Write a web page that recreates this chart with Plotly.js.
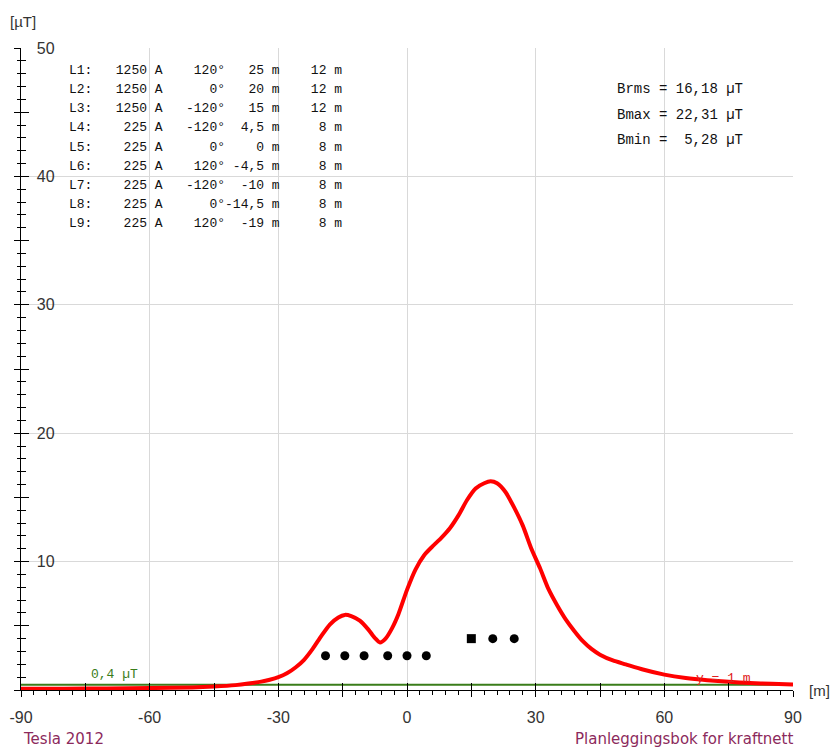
<!DOCTYPE html>
<html>
<head>
<meta charset="utf-8">
<script src="https://cdn.plot.ly/plotly-3.0.1.min.js"></script>
<style>
  html, body { margin: 0; padding: 0; background: #fff; }
  #chart { width: 833px; height: 750px; }
</style>
</head>
<body>
<div id="chart"></div>
<script>
// ---- Data ----
// Magnetic field profile at y = 1 m (µT) versus lateral position (m)
var profileX = [-90, -80, -70, -60, -50, -45, -40, -37, -34, -32, -30, -28, -26, -24, -22, -20, -18, -16, -14.5, -13, -11, -9, -7.5, -6.3, -5, -3.5, -2, 0, 2, 4, 6, 8, 10, 12, 14, 16, 18, 19.5, 21, 23, 25, 27, 29, 31, 33, 35, 37, 39, 41, 43, 45, 48, 51, 55, 60, 65, 70, 75, 80, 85, 90];
var profileB = [0.1, 0.1, 0.12, 0.15, 0.2, 0.27, 0.38, 0.5, 0.65, 0.8, 1.0, 1.3, 1.75, 2.35, 3.2, 4.2, 5.1, 5.65, 5.85, 5.75, 5.4, 4.7, 4.05, 3.7, 4.0, 4.8, 5.9, 7.8, 9.4, 10.5, 11.2, 11.85, 12.6, 13.6, 14.8, 15.7, 16.1, 16.25, 16.1, 15.4, 14.2, 12.8, 11.0, 9.5, 7.85, 6.6, 5.5, 4.6, 3.8, 3.2, 2.75, 2.3, 2.0, 1.6, 1.2, 0.93, 0.76, 0.64, 0.55, 0.48, 0.43];

// Conductors
var lineNames = ['L1', 'L2', 'L3', 'L4', 'L5', 'L6', 'L7', 'L8', 'L9'];
var lineCurrent = [1250, 1250, 1250, 225, 225, 225, 225, 225, 225];   // A
var lineAngle = [120, 0, -120, -120, 0, 120, -120, 0, 120];            // degrees
var lineX = [25, 20, 15, 4.5, 0, -4.5, -10, -14.5, -19];               // m
var lineHeight = [12, 12, 12, 8, 8, 8, 8, 8, 8];                       // m

// Summary values
var statNames = ['Brms', 'Bmax', 'Bmin'];
var statValues = [16.18, 22.31, 5.28];

var thresholdB = 0.4;      // µT
var measureHeight = 1;     // m

var xTickLabels = ['-90', '-60', '-30', '0', '30', '60', '90'];
var yTickLabels = ['10', '20', '30', '40', '50'];

// ---- Helpers ----
function dec(v) { return String(v).replace('.', ','); }
function pad(s, n) { s = String(s); while (s.length < n) s = ' ' + s; return s; }

var mono = 'Liberation Mono, Courier New, monospace';
var sans = 'Liberation Sans, Arial, sans-serif';
var footerFont = 'DejaVu Sans, Tahoma, sans-serif';

var traces = [];

// Profile curve
traces.push({
  type: 'scatter', mode: 'lines',
  x: profileX, y: profileB,
  xaxis: 'x', yaxis: 'y',
  line: { color: '#ff0000', width: 4, shape: 'spline', smoothing: 0.6 },
  hoverinfo: 'x+y', showlegend: false
});

// Conductor positions (height shown on a hidden scaled axis)
var symbols = lineX.map(function (v, i) { return i === 2 ? 'square' : 'circle'; });
traces.push({
  type: 'scatter', mode: 'markers',
  x: lineX, y: lineHeight,
  xaxis: 'x', yaxis: 'y4',
  marker: { color: '#000', size: 9, symbol: symbols },
  hoverinfo: 'x+y', showlegend: false
});

// Empty traces to activate tick-only overlay axes
traces.push({ type: 'scatter', x: [], y: [], xaxis: 'x2', yaxis: 'y2', showlegend: false, hoverinfo: 'skip' });
traces.push({ type: 'scatter', x: [], y: [], xaxis: 'x3', yaxis: 'y3', showlegend: false, hoverinfo: 'skip' });

var xr = [-90, 90], yr = [0, 50];

var annotations = [];
// Conductor table
lineNames.forEach(function (n, i) {
  var s = n + ':' + pad(lineCurrent[i], 7) + ' A' + pad(lineAngle[i] + '°', 8) +
          pad(dec(lineX[i]), 5) + ' m' + pad(lineHeight[i], 6) + ' m';
  annotations.push({
    xref: 'x', yref: 'y', x: -79.2, y: 48.24 - i * 1.49,
    xanchor: 'left', yanchor: 'middle', showarrow: false,
    text: s.replace(/ /g, '&nbsp;'),
    font: { family: mono, size: 13, color: '#111' }
  });
});
// Stats
statNames.forEach(function (n, i) {
  var s = n + ' =' + pad(dec(statValues[i].toFixed(2)), 6) + ' µT';
  annotations.push({
    xref: 'x', yref: 'y', x: 48.5, y: 46.8 - i * 1.98,
    xanchor: 'left', yanchor: 'middle', showarrow: false,
    text: s.replace(/ /g, '&nbsp;'),
    font: { family: mono, size: 14, color: '#111' }
  });
});
// Threshold label
annotations.push({
  xref: 'x', yref: 'y', x: -68.3, y: thresholdB, yanchor: 'bottom', xanchor: 'center', yshift: 1,
  showarrow: false, text: dec(thresholdB) + '&nbsp;µT',
  font: { family: mono, size: 13, color: '#3a7d1a' }
});
// Height label
annotations.push({
  xref: 'x', yref: 'y', x: 73.7, y: 0.5, yanchor: 'bottom', xanchor: 'center', yshift: -4,
  showarrow: false, text: 'y&nbsp;=&nbsp;' + measureHeight + '&nbsp;m',
  font: { family: mono, size: 13, color: '#e02020' }
});
// Axis unit labels
annotations.push({
  xref: 'paper', yref: 'paper', x: 0, y: 1.041, xanchor: 'center', yanchor: 'middle', xshift: 2,
  showarrow: false, text: '[µT]', font: { family: sans, size: 15, color: '#333' }
});
annotations.push({
  xref: 'paper', yref: 'paper', x: 1.034, y: 0, xanchor: 'center', yanchor: 'middle',
  showarrow: false, text: '[m]', font: { family: sans, size: 15, color: '#333' }
});
// Footer
annotations.push({
  xref: 'paper', yref: 'paper', x: 0, y: -0.077, xanchor: 'left', yanchor: 'middle',
  showarrow: false, text: 'Tesla 2012', font: { family: footerFont, size: 15, color: '#8c2a5c' }
});
annotations.push({
  xref: 'paper', yref: 'paper', x: 1, y: -0.077, xanchor: 'right', yanchor: 'middle', xshift: 2,
  showarrow: false, text: 'Planleggingsbok for kraftnett', font: { family: footerFont, size: 15, color: '#8c2a5c' }
});

var tickOnly = {
  showgrid: false, zeroline: false, showline: false, showticklabels: false, fixedrange: true
};

var layout = {
  width: 833, height: 750,
  margin: { l: 21, r: 40, t: 48, b: 60 },
  paper_bgcolor: '#fff', plot_bgcolor: '#fff',
  showlegend: false,
  xaxis: {
    range: xr, tickmode: 'array',
    tickvals: xTickLabels.map(Number), ticktext: xTickLabels,
    showgrid: true, gridcolor: '#d9d9d9', gridwidth: 1,
    zeroline: false, showline: true, linecolor: '#000', linewidth: 1,
    ticks: '', ticklabelstandoff: 13,
    tickfont: { family: sans, size: 16, color: '#333' },
    layer: 'below traces'
  },
  xaxis2: Object.assign({}, tickOnly, {
    overlaying: 'x', anchor: 'y', range: xr,
    tickmode: 'linear', tick0: -90, dtick: 15, ticks: 'outside', ticklen: 6, tickcolor: '#000',
    minor: { tick0: -90, dtick: 3, ticks: 'outside', ticklen: 4, tickcolor: '#000', showgrid: false }
  }),
  xaxis3: Object.assign({}, tickOnly, {
    overlaying: 'x', anchor: 'y', range: xr,
    tickmode: 'linear', tick0: -90, dtick: 15, ticks: 'inside', ticklen: 7, tickcolor: '#000'
  }),
  yaxis: {
    range: yr, tickmode: 'array',
    tickvals: yTickLabels.map(Number), ticktext: yTickLabels,
    showgrid: true, gridcolor: '#d9d9d9', gridwidth: 1,
    zeroline: false, showline: true, linecolor: '#000', linewidth: 1,
    ticks: '', ticklabelposition: 'inside', ticklabelstandoff: 16, ticklabeloverflow: 'allow',
    tickfont: { family: sans, size: 16, color: '#333' },
    layer: 'below traces'
  },
  yaxis2: Object.assign({}, tickOnly, {
    overlaying: 'y', anchor: 'x', side: 'left', range: yr,
    tickmode: 'linear', tick0: 0, dtick: 5, ticks: 'outside', ticklen: 6, tickcolor: '#000',
    minor: { tick0: 0, dtick: 1, ticks: 'outside', ticklen: 3, tickcolor: '#000', showgrid: false }
  }),
  yaxis3: Object.assign({}, tickOnly, {
    overlaying: 'y', anchor: 'x', side: 'left', range: yr,
    tickmode: 'linear', tick0: 0, dtick: 5, ticks: 'inside', ticklen: 8, tickcolor: '#000',
    minor: { tick0: 0, dtick: 1, ticks: 'inside', ticklen: 5, tickcolor: '#000', showgrid: false }
  }),
  yaxis4: {
    overlaying: 'y', anchor: 'x', side: 'left', range: [0, 150], visible: false, fixedrange: true
  },
  shapes: [{
    type: 'line', xref: 'paper', yref: 'y', x0: 0, x1: 1, y0: thresholdB, y1: thresholdB,
    line: { color: '#3a7d1a', width: 2 }, layer: 'below'
  }],
  annotations: annotations
};

Plotly.newPlot('chart', traces, layout, { displayModeBar: false, staticPlot: true });
</script>
</body>
</html>
